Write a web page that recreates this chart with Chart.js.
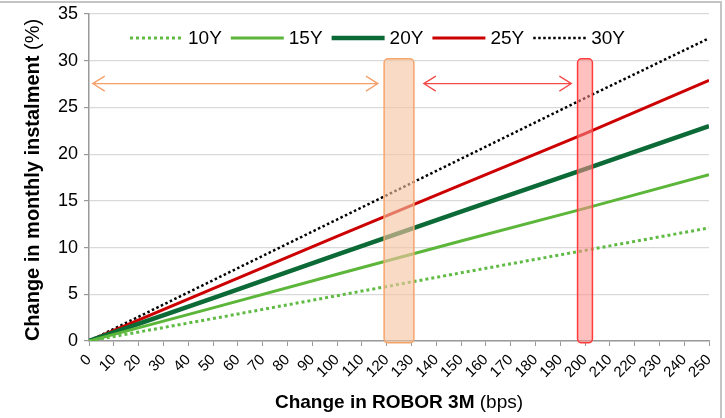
<!DOCTYPE html>
<html lang="en">
<head>
  <meta charset="UTF-8">
  <title>ROBOR 3M sensitivity</title>
  <script src="https://cdn.jsdelivr.net/npm/chart.js"></script>
  <style>
    html, body { margin: 0; padding: 0; background: #fff; }
    #wrap { position: relative; width: 725px; height: 418px; }
  </style>
</head>
<body>
  <div id="wrap">
    <canvas id="graphic" width="725" height="418"></canvas>
  </div>

  <script>
    // values (change in monthly instalment, %)
    const bps = [0, 50, 100, 150, 200, 250];
    const loan10Y = [0, 2.4, 4.85, 7.3, 9.7, 12.1];
    const loan15Y = [0, 3.55, 7.15, 10.7, 14.2, 17.8];
    const loan20Y = [0, 4.6, 9.25, 13.85, 18.4, 23.0];
    const loan25Y = [0, 5.6, 11.2, 16.7, 22.2, 27.9];
    const loan30Y = [0, 6.5, 13.0, 19.5, 26.0, 32.4];
    const seriesNames = ['10Y', '15Y', '20Y', '25Y', '30Y'];

    const FONT = '"Liberation Sans", Arial, sans-serif';

    function pts(values) {
      return values.map((v, i) => ({ x: bps[i], y: v }));
    }

    // frame, highlight boxes, arrows, legend and mixed-weight axis titles
    const extras = {
      id: 'extras',
      beforeDraw(chart) {
        const ctx = chart.ctx;
        ctx.save();
        ctx.fillStyle = '#fff';
        ctx.fillRect(0, 0, chart.width, chart.height);
        ctx.strokeStyle = '#c4c4c4';
        ctx.lineWidth = 2;
        ctx.beginPath();
        ctx.moveTo(0, 2);
        ctx.lineTo(721, 2);
        ctx.lineTo(721, chart.height);
        ctx.stroke();
        ctx.restore();
      },
      afterDatasetsDraw(chart) {
        const ctx = chart.ctx;
        const x = chart.scales.x, y = chart.scales.y;

        function box(x0, x1, fill, stroke) {
          const l = x.getPixelForValue(x0), r = x.getPixelForValue(x1);
          const t = y.getPixelForValue(30.2), b = y.getPixelForValue(-0.2);
          ctx.save();
          ctx.fillStyle = fill;
          ctx.strokeStyle = stroke;
          ctx.lineWidth = 1.5;
          ctx.beginPath();
          ctx.roundRect(l, t, r - l, b - t, 4);
          ctx.fill();
          ctx.stroke();
          ctx.restore();
        }

        function arrow(x0, x1, color) {
          const l = x.getPixelForValue(x0), r = x.getPixelForValue(x1);
          const yy = y.getPixelForValue(27.55);
          ctx.save();
          ctx.strokeStyle = color;
          ctx.lineWidth = 1.3;
          ctx.beginPath();
          ctx.moveTo(l, yy);
          ctx.lineTo(r, yy);
          ctx.moveTo(l + 12, yy - 7.5);
          ctx.lineTo(l, yy);
          ctx.lineTo(l + 12, yy + 7.5);
          ctx.moveTo(r - 12, yy - 7.5);
          ctx.lineTo(r, yy);
          ctx.lineTo(r - 12, yy + 7.5);
          ctx.stroke();
          ctx.restore();
        }

        box(119, 131, 'rgba(246, 196, 162, 0.62)', '#f4a56c');
        box(197, 203, 'rgba(255, 140, 140, 0.55)', '#ff3b3b');
        arrow(1.5, 116.5, '#f5a06a');
        arrow(135, 194.5, '#f44a4a');
      },
      afterDraw(chart) {
        const ctx = chart.ctx;
        ctx.save();

        // legend
        ctx.font = '19px ' + FONT;
        ctx.textBaseline = 'middle';
        let lx = 130;
        const ly = 38;
        chart.data.datasets.forEach(ds => {
          ctx.save();
          ctx.strokeStyle = ds.borderColor;
          ctx.lineWidth = ds.borderWidth;
          ctx.setLineDash(ds.borderDash || []);
          ctx.beginPath();
          ctx.moveTo(lx, ly);
          ctx.lineTo(lx + 53, ly);
          ctx.stroke();
          ctx.restore();
          lx += 58;
          ctx.fillStyle = '#000';
          ctx.fillText(ds.label, lx, ly + 1);
          lx += ctx.measureText(ds.label).width + 9;
        });

        // axis titles: bold text followed by a regular unit
        function title(boldPart, normalPart, cx, cy, rot, size) {
          ctx.save();
          ctx.translate(cx, cy);
          ctx.rotate(rot);
          ctx.fillStyle = '#000';
          ctx.textBaseline = 'middle';
          ctx.font = 'bold ' + size + 'px ' + FONT;
          const w1 = ctx.measureText(boldPart).width;
          ctx.font = size + 'px ' + FONT;
          const w2 = ctx.measureText(normalPart).width;
          const sx = -(w1 + w2) / 2;
          ctx.font = 'bold ' + size + 'px ' + FONT;
          ctx.fillText(boldPart, sx, 0);
          ctx.font = size + 'px ' + FONT;
          ctx.fillText(normalPart, sx + w1, 0);
          ctx.restore();
        }
        title('Change in ROBOR 3M', ' (bps)', 399, 403, 0, 19);
        title('Change in monthly instalment', ' (%)', 33, 180, -Math.PI / 2, 20);

        ctx.restore();
      }
    };

    const lienzo = document.getElementById('graphic');
    const grafico = new Chart(lienzo, {
      type: 'line',
      data: {
        datasets: [
          { label: seriesNames[0], data: pts(loan10Y), borderColor: '#5fbb44', borderWidth: 3, borderDash: [3, 3] },
          { label: seriesNames[1], data: pts(loan15Y), borderColor: '#5cb63a', borderWidth: 3 },
          { label: seriesNames[2], data: pts(loan20Y), borderColor: '#0b6a36', borderWidth: 4.5 },
          { label: seriesNames[3], data: pts(loan25Y), borderColor: '#cc0000', borderWidth: 3 },
          { label: seriesNames[4], data: pts(loan30Y), borderColor: '#000000', borderWidth: 2.5, borderDash: [2.5, 2.5] }
        ]
      },
      options: {
        responsive: false,
        animation: false,
        devicePixelRatio: 1,
        elements: {
          point: { radius: 0 },
          line: { tension: 0, fill: false }
        },
        layout: { padding: { left: 0, top: 14, right: 16, bottom: 0 } },
        plugins: {
          legend: { display: false },
          tooltip: { enabled: false }
        },
        scales: {
          x: {
            type: 'linear',
            min: 0,
            max: 250,
            afterFit(scale) {
              scale.height = 77;
              scale.paddingLeft = 0;
              scale.paddingRight = 0;
            },
            border: { color: '#999', width: 1.5 },
            grid: { drawOnChartArea: false, drawTicks: true, tickLength: 5, color: '#999' },
            ticks: {
              stepSize: 10,
              autoSkip: false,
              maxRotation: 45,
              minRotation: 45,
              padding: 5,
              color: '#000',
              font: { family: FONT, size: 15 }
            }
          },
          y: {
            min: 0,
            max: 35,
            afterFit(scale) {
              scale.width = 89;
              scale.paddingTop = 0;
              scale.paddingBottom = 0;
            },
            border: { color: '#999', width: 1.5 },
            grid: { color: '#d9d9d9', lineWidth: 1.2, tickLength: 5, tickColor: '#999' },
            ticks: {
              stepSize: 5,
              padding: 6,
              color: '#000',
              font: { family: FONT, size: 18 }
            }
          }
        }
      },
      plugins: [extras]
    });
  </script>
</body>
</html>
